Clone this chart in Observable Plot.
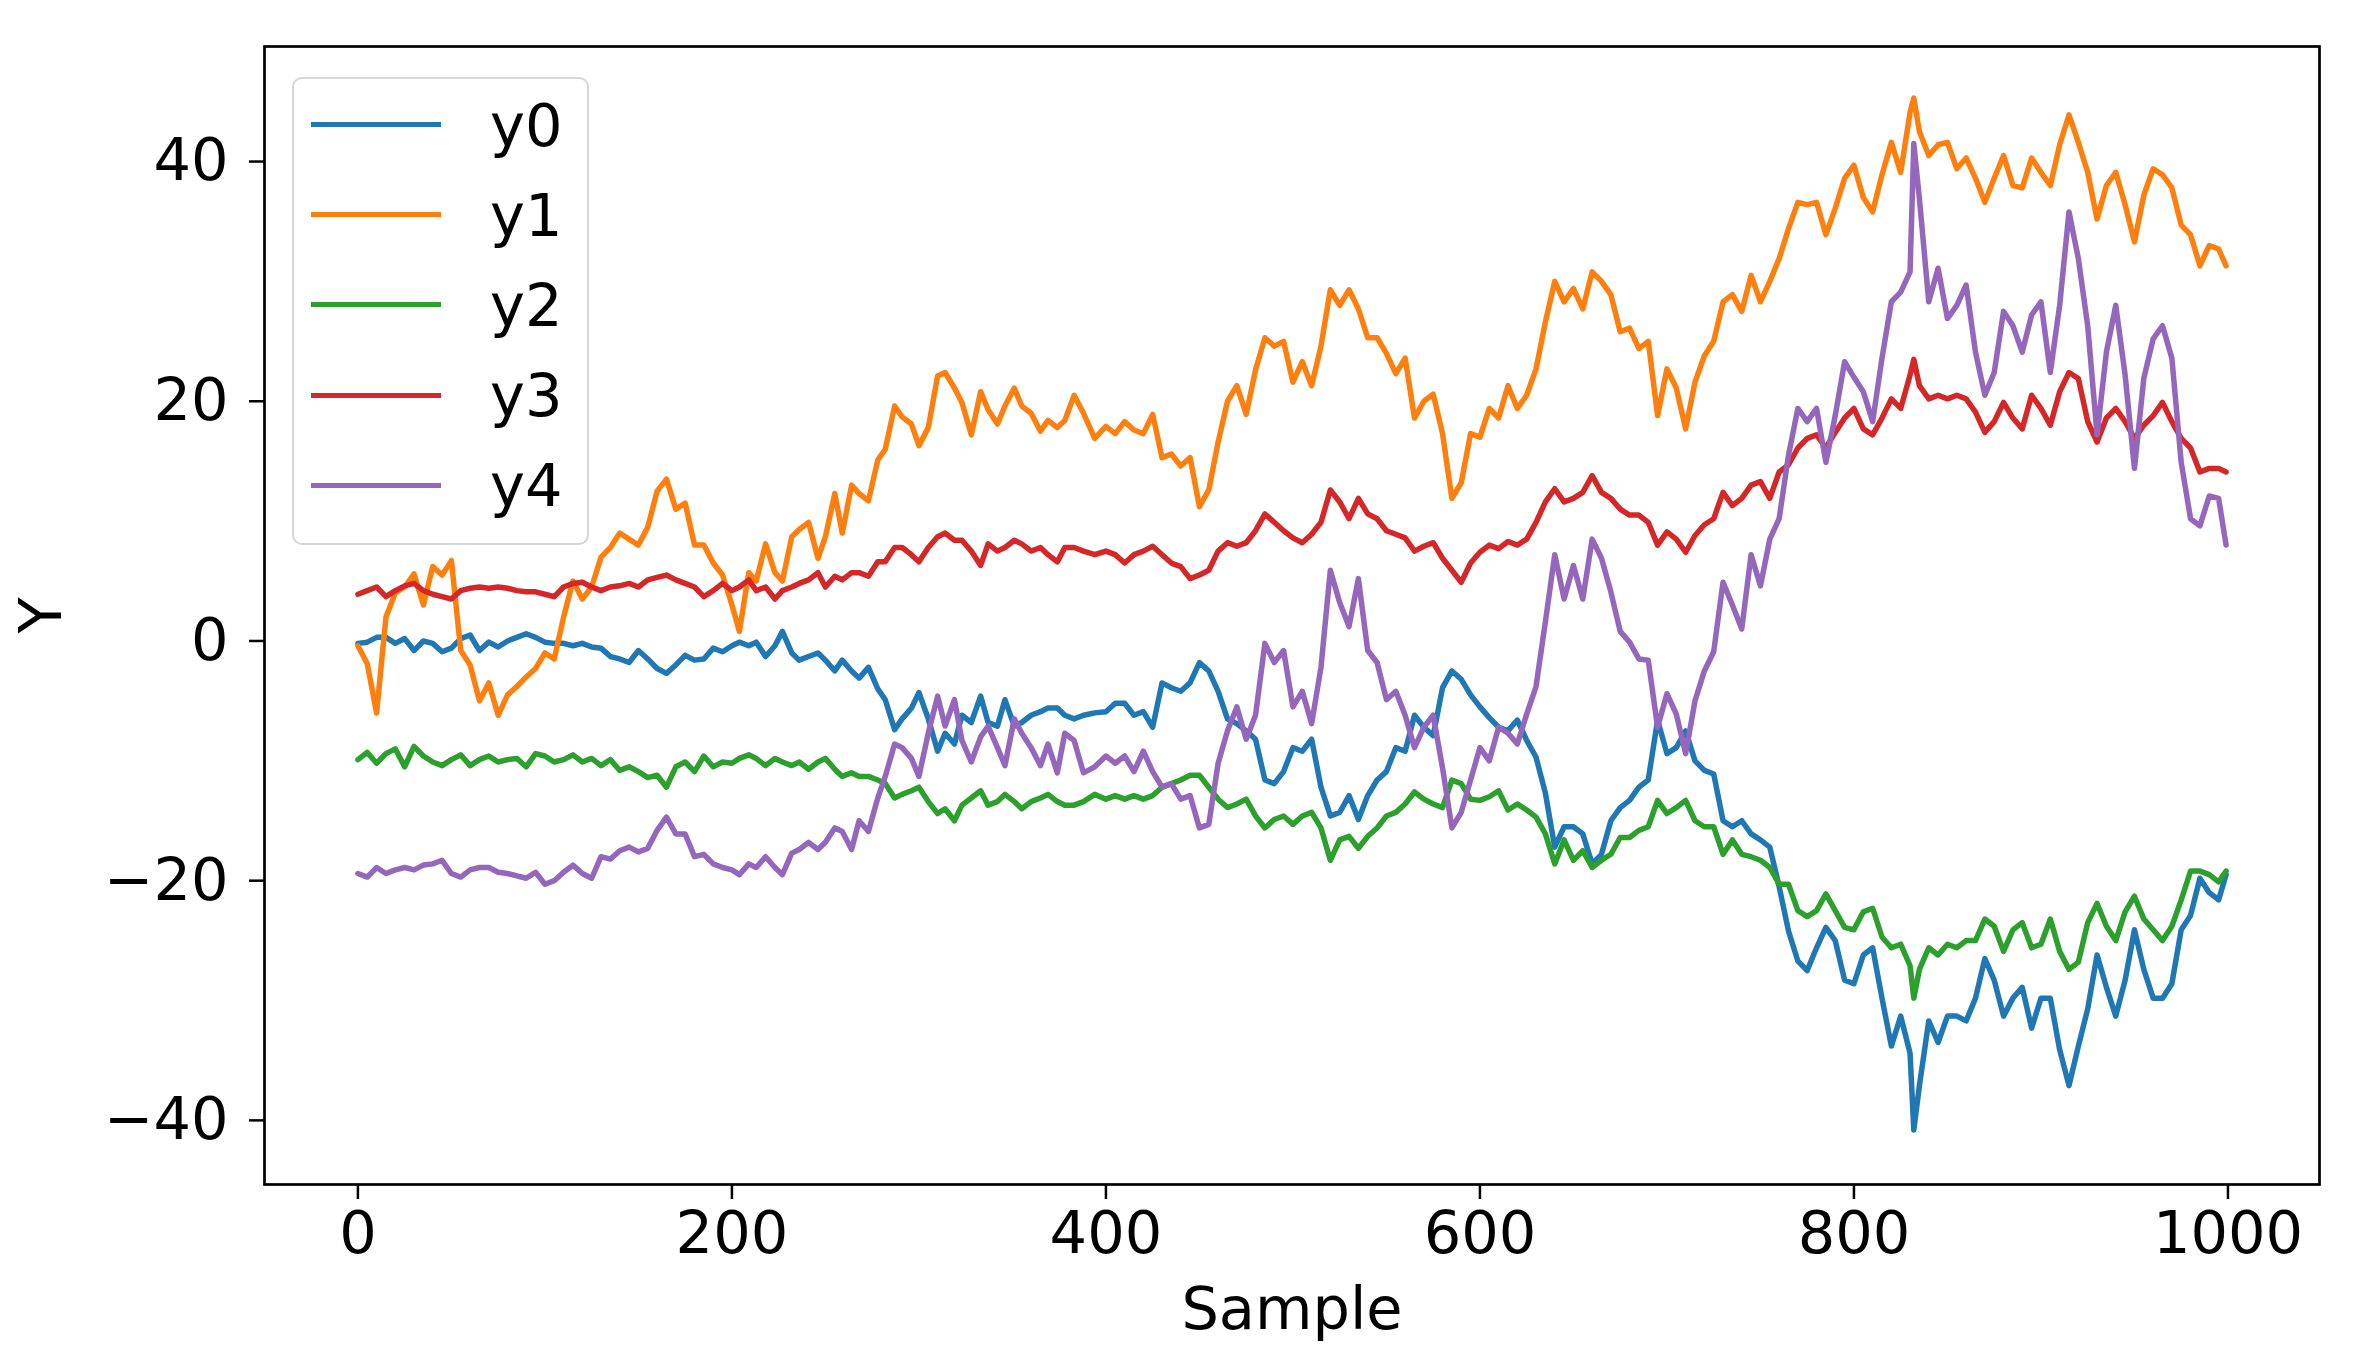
<!DOCTYPE html>
<html>
<head>
<meta charset="utf-8">
<script src="https://cdn.jsdelivr.net/npm/d3@7"></script>
<script src="https://cdn.jsdelivr.net/npm/@observablehq/plot@0.6"></script>
<style>
  html, body { margin: 0; padding: 0; background: #ffffff; }
  #wrap { position: relative; width: 2368px; height: 1372px; overflow: hidden; font-family: "DejaVu Sans", sans-serif; }
  #legend { position: absolute; left: 292px; top: 77px; width: 297px; height: 468px; box-sizing: border-box;
            border: 2.5px solid #d6d6d6; border-radius: 10px; background: rgba(255,255,255,0.8); }
  .swatch { position: absolute; left: 16.5px; width: 130px; height: 5px; }
  .lab { position: absolute; left: 196px; font-size: 59px; line-height: 59px; color: #000; white-space: nowrap; }
</style>
</head>
<body>
<div id="wrap"><div id="legend"></div></div>
<script>
// ---- data ----
const seriesNames = ["y0", "y1", "y2", "y3", "y4"];
const seriesColors = ["#1f77b4", "#ff7f0e", "#2ca02c", "#d62728", "#9467bd"];
const xTicks = [0, 200, 400, 600, 800, 1000];
const yTicks = [-40, -20, 0, 20, 40];

const samples = [0,5,10,15,20,25,30,35,40,45,50,55,60,65,70,75,80,85,90,95,100,105,110,115,120,125,130,135,140,145,150,155,160,165,170,175,180,185,190,195,200,
204,209,213,218,223,227,232,236,241,246,250,255,259,264,268,273,278,282,287,291,296,300,305,310,314,319,323,328,333,337,342,346,351,355,360,365,369,374,378,383,388,
394,
400,405,410,415,420,425,430,435,440,445,450,455,460,465,470,475,480,485,490,495,500,505,510,515,520,525,530,535,540,545,550,555,560,565,570,575,580,585,590,595,
600,605,610,615,620,625,630,635,640,645,650,655,660,665,670,675,680,685,690,695,700,705,710,715,720,725,730,735,740,745,750,755,760,765,770,775,780,785,790,795,
800,805,810,815,820,825,830,832,835,840,845,850,855,860,865,870,875,880,885,890,895,900,905,910,915,920,925,930,935,940,945,950,955,960,965,970,975,980,985,990,995,999];

const y0 = [-0.2,-0.1,0.3,0.3,-0.2,0.2,-0.8,0,-0.2,-0.9,-0.6,0.2,0.5,-0.8,-0.1,-0.5,0,0.3,0.6,0.3,-0.1,-0.2,-0.2,-0.4,-0.2,-0.5,-0.6,-1.3,-1.5,-1.8,-0.8,-1.5,-2.3,-2.7,-2.0,-1.2,-1.6,-1.5,-0.6,-0.9,-0.4,
-0.1,-0.4,-0.1,-1.3,-0.4,0.8,-1,-1.6,-1.3,-1,-1.6,-2.5,-1.6,-2.5,-3.1,-2.2,-4,-4.9,-7.4,-6.5,-5.6,-4.3,-6.5,-9.2,-7.7,-8.6,-6.2,-6.8,-4.6,-6.8,-7.1,-4.9,-7.1,-6.8,-6.2,-5.9,-5.6,-5.6,-6.2,-6.5,-6.2,
-6.0,
-5.9,-5.2,-5.2,-6.2,-5.9,-7.2,-3.5,-3.9,-4.2,-3.5,-1.8,-2.5,-4.2,-6.5,-6.9,-7.5,-8.2,-11.6,-11.9,-10.9,-8.9,-9.2,-8.2,-12.2,-14.6,-14.3,-12.9,-14.9,-12.9,-11.6,-10.9,-8.9,-9.2,-6.2,-7.2,-7.9,-3.9,-2.5,-3.2,-4.5,
-5.5,-6.4,-7.2,-7.5,-6.6,-8.3,-9.7,-12.7,-17.2,-15.5,-15.5,-16.1,-18.6,-17.8,-15,-13.9,-13.3,-12.2,-11.6,-6.6,-9.4,-8.9,-7.5,-10,-10.8,-11.1,-15,-15.5,-15,-16.1,-16.6,-17.2,-20.5,-24.2,-26.7,-27.5,-25.6,-23.9,-25,-28.3,
-28.6,-26.2,-25.6,-29.8,-33.8,-31.3,-34.4,-40.8,-37.1,-31.7,-33.5,-31.3,-31.3,-31.7,-29.8,-26.5,-28.3,-31.3,-29.8,-28.9,-32.3,-29.8,-29.8,-34.1,-37.1,-33.8,-30.7,-26.2,-28.9,-31.3,-28.3,-24.1,-27.4,-29.8,-29.8,-28.6,-24.1,-22.9,-19.8,-21.0,-21.6,-19.5];

const y1 = [-0.4,-1.9,-6.0,2.0,4.0,4.5,5.6,3.0,6.2,5.5,6.7,-0.8,-2.0,-5.0,-3.5,-6.2,-4.5,-3.8,-3.0,-2.3,-1.0,-1.5,2.0,5.0,3.5,4.5,7.0,7.8,9.0,8.5,8.0,9.5,12.5,13.5,11.0,11.5,8.0,8.0,6.5,5.5,3.0,
0.8,5.7,5,8.1,5.7,5,8.7,9.3,9.9,6.9,8.7,12.3,9,13,12.3,11.7,15.1,16,19.6,18.7,18.1,16.3,17.8,22.1,22.4,21.1,19.9,17.2,20.8,19.3,18.1,19.6,21.1,19.6,19,17.5,18.4,17.8,18.4,20.5,19,
16.9,
17.9,17.3,18.3,17.6,17.3,18.9,15.3,15.6,14.6,15.3,11.2,12.6,16.6,20,21.3,18.9,22.6,25.3,24.6,25,21.6,23.3,21.3,24.6,29.3,28,29.3,27.7,25.3,25.3,24,22.3,23.6,18.6,20,20.6,17.3,11.9,13.2,17.3,
17,19.4,18.6,21.3,19.4,20.5,22.7,26.6,30,28.3,29.4,27.7,30.8,30,28.9,25.8,26.1,24.4,25,18.8,22.7,21.1,17.7,21.6,23.8,25,28.3,28.9,27.5,30.5,28.3,30,31.9,34.4,36.6,36.4,36.6,33.9,36.1,38.6,
39.7,37.0,35.8,38.9,41.6,39.1,44.1,45.3,42.5,40.5,41.4,41.6,39.4,40.3,38.6,36.6,38.6,40.5,38.0,37.8,40.3,39.1,38.0,41.4,43.9,41.6,39.1,35.2,38.0,39.1,36.4,33.3,37.2,39.4,38.9,37.8,34.7,33.9,31.3,33.0,32.7,31.3];

const y2 = [-9.9,-9.3,-10.2,-9.4,-9.0,-10.5,-8.8,-9.6,-10.1,-10.4,-9.9,-9.5,-10.4,-9.9,-9.6,-10.1,-9.9,-9.8,-10.5,-9.4,-9.6,-10.1,-9.9,-9.5,-10.1,-9.8,-10.4,-9.9,-10.8,-10.5,-10.9,-11.4,-11.2,-12.2,-10.5,-10.1,-10.9,-9.6,-10.5,-10.1,-10.2,
-9.8,-9.5,-9.8,-10.4,-9.8,-10.1,-10.4,-10.1,-10.7,-10.1,-9.8,-10.7,-11.3,-11,-11.3,-11.3,-11.6,-11.9,-13.1,-12.8,-12.5,-12.2,-13.4,-14.4,-14,-15,-13.7,-13.1,-12.5,-13.7,-13.4,-12.8,-13.4,-14,-13.4,-13.1,-12.8,-13.4,-13.7,-13.7,-13.4,
-12.8,
-13.2,-12.9,-13.2,-12.9,-13.2,-12.9,-12.2,-11.9,-11.6,-11.2,-11.2,-12.2,-13.2,-13.9,-13.6,-13.2,-14.6,-15.6,-14.9,-14.6,-15.3,-14.6,-14.3,-15.6,-18.3,-16.6,-16.3,-17.3,-16.3,-15.6,-14.6,-14.3,-13.6,-12.6,-13.2,-13.6,-13.9,-11.6,-11.9,-13.2,
-13.3,-13,-12.5,-14.1,-13.6,-14.1,-14.7,-16.1,-18.6,-16.6,-18.3,-17.5,-18.9,-18.3,-17.8,-16.4,-16.4,-15.8,-15.5,-13.3,-14.4,-13.9,-13.3,-15,-15.5,-15.5,-17.8,-16.6,-17.8,-18,-18.3,-18.9,-20.3,-20.3,-22.5,-23,-22.5,-21.1,-22.5,-23.9,
-24.1,-22.6,-22.3,-24.7,-25.6,-25.3,-27.1,-29.8,-27.4,-25.6,-26.2,-25.3,-25.6,-25.0,-25.0,-23.2,-23.8,-25.9,-24.1,-23.5,-25.6,-25.3,-23.2,-25.9,-27.4,-26.8,-23.5,-21.9,-23.8,-25.0,-22.6,-21.3,-23.2,-24.1,-25.0,-23.8,-21.6,-19.2,-19.2,-19.5,-20.1,-19.2];

const y3 = [3.9,4.2,4.5,3.7,4.2,4.6,4.8,4.2,3.9,3.7,3.5,4.2,4.4,4.5,4.4,4.5,4.4,4.2,4.1,4.1,3.9,3.7,4.5,4.8,4.9,4.5,4.2,4.5,4.6,4.8,4.5,5.1,5.3,5.5,5.1,4.8,4.5,3.7,4.2,4.8,4.2,
4.5,5.1,4.2,4.5,3.5,4.2,4.5,4.8,5.1,5.7,4.5,5.4,5.1,5.7,5.7,5.4,6.6,6.6,7.8,7.8,7.2,6.6,7.8,8.7,9,8.4,8.4,7.5,6.3,8.1,7.5,7.8,8.4,8.1,7.5,7.8,7.2,6.6,7.8,7.8,7.5,
7.2,
7.5,7.2,6.5,7.2,7.5,7.9,7.2,6.5,6.2,5.2,5.5,5.9,7.5,8.2,7.9,8.2,9.2,10.6,9.9,9.2,8.6,8.2,8.9,9.9,12.6,11.6,10.2,11.9,10.6,10.2,9.2,8.9,8.6,7.5,7.9,8.2,6.9,5.9,4.9,6.5,
7.4,8,7.7,8.3,8,8.5,9.9,11.6,12.7,11.6,11.9,12.4,13.8,12.4,11.9,11,10.5,10.5,9.9,8,9.1,8.5,7.4,8.8,9.7,10.2,12.4,11.3,11.9,13,13.3,11.9,14.1,14.7,16.1,16.9,17.2,16.1,17.4,18.6,
19.4,17.7,17.2,18.6,20.2,19.4,22.2,23.5,21.3,20.2,20.5,20.2,20.5,20.2,19.1,17.4,18.3,19.9,18.6,17.7,20.5,19.4,18.0,20.8,22.4,21.9,18.3,16.6,18.6,19.4,18.3,16.9,18.0,18.8,19.9,18.3,16.9,16.1,14.1,14.4,14.4,14.1];

const y4 = [-19.4,-19.7,-18.9,-19.4,-19.1,-18.9,-19.1,-18.7,-18.6,-18.3,-19.4,-19.7,-19.1,-18.9,-18.9,-19.3,-19.4,-19.6,-19.8,-19.3,-20.3,-20.0,-19.3,-18.7,-19.4,-19.8,-18.0,-18.2,-17.5,-17.2,-17.6,-17.3,-15.8,-14.7,-16.1,-16.1,-18.0,-17.8,-18.6,-18.9,-19.1,
-19.5,-18.6,-18.9,-18,-18.9,-19.5,-17.7,-17.4,-16.8,-17.4,-16.8,-15.6,-15.9,-17.4,-15,-15.9,-13.1,-11.3,-8.6,-8.9,-9.8,-11.3,-7.7,-4.6,-7.1,-4.9,-8.3,-10.1,-8,-7.1,-8.9,-10.4,-6.5,-7.7,-8.9,-10.4,-8.6,-11,-7.7,-8.3,-11,
-10.5,
-9.6,-10.2,-9.6,-10.9,-9.2,-10.9,-12.2,-11.9,-13.2,-12.9,-15.6,-15.3,-10.2,-7.5,-5.5,-8.2,-6.2,-0.2,-1.8,-0.8,-5.5,-4.2,-6.9,-2.2,5.9,3.2,1.2,5.2,-0.8,-1.8,-4.9,-4.2,-6.2,-8.9,-7.2,-6.2,-10.6,-15.6,-14.3,-11.6,
-8.9,-10,-7.2,-7.7,-8.6,-6.1,-3.8,1.6,7.2,3.5,6.3,3.5,8.5,6.9,4.1,0.8,-0.1,-1.5,-1.6,-7.2,-4.4,-6.1,-9.4,-5,-2.5,-0.9,4.9,3,1,7.2,4.6,8.5,10.2,15.5,19.4,18.3,19.4,14.9,18.8,23.3,
22,20.8,18.3,23.6,28.3,29.1,30.8,41.5,36.9,28.3,31.1,26.9,28.0,29.7,24.1,20.5,22.4,27.5,26.3,24.1,27.2,28.3,22.4,28.0,35.8,31.9,26.3,17.2,24.1,28.0,22.2,14.4,21.9,25.2,26.3,23.6,14.9,10.2,9.6,12.1,11.9,8.0];

// ---- build the long table ----
const seriesValues = [y0, y1, y2, y3, y4];
seriesValues.forEach((v, i) => { if (v.length !== samples.length) console.warn(seriesNames[i], v.length, samples.length); });
const data = seriesNames.flatMap((name, i) =>
  samples.map((s, j) => ({ sample: s, value: seriesValues[i][j], series: name })));

const minus = d => (d < 0 ? "\u2212" + Math.abs(d) : String(d));

const chart = Plot.plot({
  width: 2368,
  height: 1372,
  marginLeft: 264,
  marginRight: 49,
  marginTop: 46,
  marginBottom: 188,
  style: { fontFamily: "DejaVu Sans", fontSize: "59px", background: "white", color: "black", overflow: "visible" },
  x: { domain: [-49.95, 1048.95] },
  y: { domain: [-45.35, 49.6] },
  color: { domain: seriesNames, range: seriesColors },
  marks: [
    Plot.line(data, { x: "sample", y: "value", z: "series", stroke: "series", strokeWidth: 5.5, strokeLinejoin: "round" }),
    Plot.frame({ stroke: "black", strokeWidth: 2.7 }),
    Plot.axisX({ ticks: xTicks, tickSize: 15, tickPadding: 12, strokeWidth: 2.5, fontSize: 59, tickFormat: d => String(d),
                 label: "Sample", labelAnchor: "center", labelArrow: "none", labelOffset: 144 }),
    Plot.axisY({ ticks: yTicks, tickSize: 15, tickPadding: 21, strokeWidth: 2.5, fontSize: 59, tickFormat: minus,
                 label: "Y", labelAnchor: "center", labelArrow: "none", labelOffset: 245 })
  ]
});
document.getElementById("wrap").prepend(chart);

// ---- legend (HTML overlay, built from the series arrays) ----
const legend = document.getElementById("legend");
seriesNames.forEach((name, i) => {
  const cy = 45.5 + i * 90.2;
  const sw = document.createElement("div");
  sw.className = "swatch";
  sw.style.top = (cy - 2.5) + "px";
  sw.style.background = seriesColors[i];
  legend.appendChild(sw);
  const lab = document.createElement("div");
  lab.className = "lab";
  lab.style.top = (cy - 29) + "px";
  lab.textContent = name;
  legend.appendChild(lab);
});
</script>
</body>
</html>
